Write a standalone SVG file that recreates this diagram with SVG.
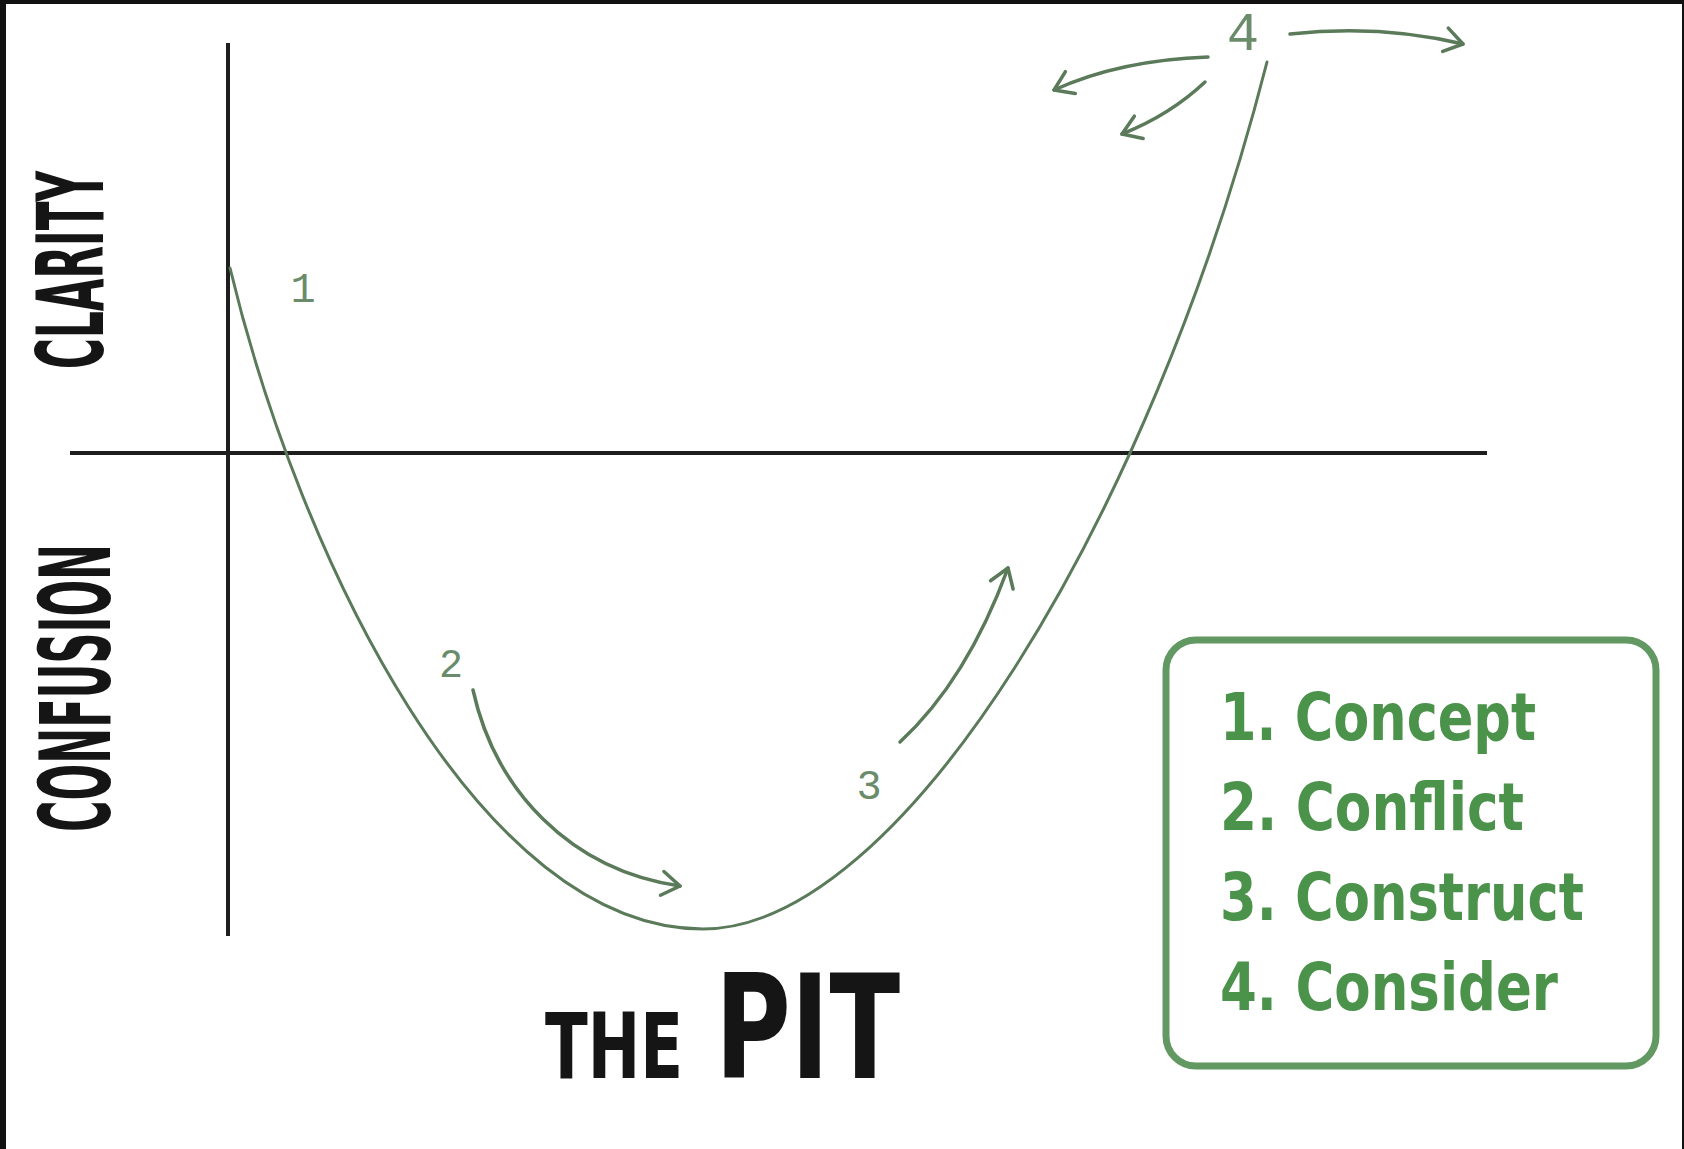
<svg xmlns="http://www.w3.org/2000/svg" width="1684" height="1149" viewBox="0 0 1684 1149">
<defs>
<style>
.axis{stroke:#1e1e1e;stroke-width:4;fill:none}
.curve{stroke:#5a7a5a;stroke-width:3;fill:none;stroke-linecap:round}
.arr{stroke:#5a7a5a;stroke-width:3.5;fill:none;stroke-linecap:round}
.num{font-family:"Liberation Mono","DejaVu Sans Mono",monospace;fill:#6a8c6a;text-anchor:middle}
.axlbl{font-family:"DejaVu Sans Condensed","DejaVu Sans",sans-serif;font-weight:bold;fill:#151515;text-anchor:middle}
.leg{font-family:"DejaVu Sans Condensed","DejaVu Sans",sans-serif;font-weight:bold;fill:#4b924b;font-size:66px}
.title{font-family:"DejaVu Sans","Liberation Sans",sans-serif;font-weight:bold;fill:#151515}
</style>
<marker id="ah" viewBox="-22 -16 26 32" refX="0" refY="0" markerWidth="26" markerHeight="32" markerUnits="userSpaceOnUse" orient="auto">
<path d="M-18,-12 L0,0 L-18,12" fill="none" stroke="#5a7a5a" stroke-width="3.5" stroke-linecap="round" stroke-linejoin="round"/>
</marker>
</defs>
<rect x="0" y="0" width="1684" height="1149" fill="#ffffff"/>
<rect x="0" y="0" width="6" height="1149" fill="#111"/>
<rect x="0" y="0" width="1684" height="4" fill="#111"/>
<rect x="1682" y="0" width="2" height="1149" fill="#111"/>

<g id="axes">
<line class="axis" x1="228" y1="43" x2="228" y2="936"/>
<line class="axis" x1="70" y1="453" x2="1487" y2="453"/>
</g>

<g id="axis-labels">
<text class="axlbl" font-size="92" textLength="198" lengthAdjust="spacingAndGlyphs" transform="translate(103,270) rotate(-90)">CLARITY</text>
<text class="axlbl" font-size="98" textLength="288" lengthAdjust="spacingAndGlyphs" transform="translate(110,688) rotate(-90)">CONFUSION</text>
</g>

<g id="connectors">
<path id="pit-curve" class="curve" d="M230,268 C300,560 480,929 703,929 C900,929 1150,520 1267,62"/>
<path id="arrow-2" class="arr" d="M473,690 C495,790 570,870 680,886" marker-end="url(#ah)"/>
<path id="arrow-3" class="arr" d="M900,742 C940,705 978,650 1008,568" marker-end="url(#ah)"/>
<path id="arrow-4-right" class="arr" d="M1290,34 Q1380,24 1463,44" marker-end="url(#ah)"/>
<path id="arrow-4-left" class="arr" d="M1208,57 Q1120,60 1054,90" marker-end="url(#ah)"/>
<path id="arrow-4-down" class="arr" d="M1205,82 Q1170,115 1122,134" marker-end="url(#ah)"/>
</g>

<g id="step-1"><text class="num" x="303" y="302" font-size="42">1</text></g>
<g id="step-2"><text class="num" x="451" y="677" font-size="40">2</text></g>
<g id="step-3"><text class="num" x="869" y="799" font-size="42">3</text></g>
<g id="step-4"><text class="num" x="1243" y="50" font-size="54">4</text></g>

<g id="legend">
<rect x="1166" y="640" width="490" height="426" rx="30" ry="30" fill="none" stroke="#629862" stroke-width="7"/>
<text class="leg" x="1220" y="740" textLength="316" lengthAdjust="spacingAndGlyphs">1. Concept</text>
<text class="leg" x="1220" y="830" textLength="304" lengthAdjust="spacingAndGlyphs">2. Conflict</text>
<text class="leg" x="1220" y="920" textLength="364" lengthAdjust="spacingAndGlyphs">3. Construct</text>
<text class="leg" x="1220" y="1010" textLength="338" lengthAdjust="spacingAndGlyphs">4. Consider</text>
</g>

<g id="title">
<text class="title" y="1078"><tspan x="545" font-size="90" textLength="138" lengthAdjust="spacingAndGlyphs">THE</tspan><tspan x="715" font-size="145" textLength="185" lengthAdjust="spacingAndGlyphs">PIT</tspan></text>
</g>
</svg>
